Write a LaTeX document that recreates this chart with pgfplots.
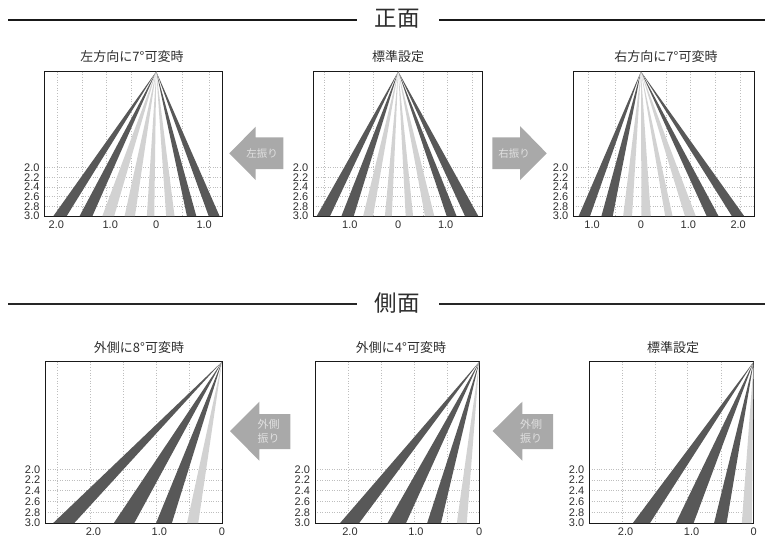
\documentclass[border=0pt]{standalone}
\usepackage{fontspec}
\setmainfont{Liberation Sans}
\newfontfamily\jp{Noto Sans CJK JP}
\usepackage{pgfplots}
\pgfplotsset{compat=1.18}
\definecolor{wdark}{HTML}{585858}
\definecolor{wlight}{HTML}{D2D2D2}
\definecolor{garrow}{HTML}{A9A9A9}
\definecolor{gtext}{HTML}{2E2E2E}
\definecolor{ggrid}{HTML}{BEBEBE}
\pgfplotsset{
  panel/.style={
    scale only axis, anchor=north west,
    y dir=reverse, ymin=0, ymax=3,
    ytick={2,2.2,2.4,2.6,2.8,3},
    yticklabels={2.0,2.2,2.4,2.6,2.8,3.0},
    ymajorgrids=true,
    major grid style={dotted, ggrid, line width=0.7pt},
    major tick length=0pt,
    tick label style={font=\fontsize{11}{11}\selectfont, text=gtext},
    yticklabel style={xshift=-1.5pt},
    xticklabel style={yshift=-1pt},
    axis line style={line width=0.9pt, black!90},
    extra x tick labels={},
    extra x tick style={xmajorgrids=true, major tick length=0pt,
      major grid style={dotted, ggrid, line width=0.7pt}},
  },
  top/.style={panel, height=144.5pt},
  bot/.style={panel, height=161.3pt},
  d/.style={fill=wdark, draw=none},
  l/.style={fill=wlight, draw=none},
}
\begin{document}
\begin{tikzpicture}
\path (0,0) rectangle (766pt,-539pt);

% section rules
\draw[line width=1.8pt, black!90] (8pt,-20pt) -- (357pt,-20pt) (439pt,-20pt) -- (765pt,-20pt);
\draw[line width=1.8pt, black!85] (8pt,-304pt) -- (357pt,-304pt) (439pt,-304pt) -- (765pt,-304pt);
\node[text=gtext, font=\jp\fontsize{22.5}{22.5}\selectfont] at (397pt,-19pt) {正面};
\node[text=gtext, font=\jp\fontsize{22.5}{22.5}\selectfont] at (397pt,-303pt) {側面};

% panel titles
\node[text=gtext, font=\jp\fontsize{13}{13}\selectfont] at (132pt,-57pt) {左方向に7°可変時};
\node[text=gtext, font=\jp\fontsize{13}{13}\selectfont] at (398pt,-57pt) {標準設定};
\node[text=gtext, font=\jp\fontsize{13}{13}\selectfont] at (666pt,-57pt) {右方向に7°可変時};
\node[text=gtext, font=\jp\fontsize{13}{13}\selectfont] at (139pt,-347.5pt) {外側に8°可変時};
\node[text=gtext, font=\jp\fontsize{13}{13}\selectfont] at (401pt,-347.5pt) {外側に4°可変時};
\node[text=gtext, font=\jp\fontsize{13}{13}\selectfont] at (673pt,-347.5pt) {標準設定};

% arrows
\fill[garrow] (229.3pt,-153.3pt) -- (255.7pt,-126.7pt) -- (255.7pt,-137.3pt) -- (283.3pt,-137.3pt) -- (283.3pt,-169pt) -- (255.7pt,-169pt) -- (255.7pt,-180pt) -- cycle;
\node[text=white!88!black, font=\jp\fontsize{10.5}{10.5}\selectfont] at (262pt,-154pt) {左振り};
\fill[garrow] (546.7pt,-153.3pt) -- (520pt,-126pt) -- (520pt,-137.3pt) -- (492.3pt,-137.3pt) -- (492.3pt,-169pt) -- (520pt,-169pt) -- (520pt,-180pt) -- cycle;
\node[text=white!88!black, font=\jp\fontsize{10.5}{10.5}\selectfont] at (514pt,-154pt) {右振り};
\fill[garrow] (230pt,-431pt) -- (259.3pt,-401.7pt) -- (259.3pt,-414pt) -- (290.3pt,-414pt) -- (290.3pt,-449pt) -- (259.3pt,-449pt) -- (259.3pt,-460.7pt) -- cycle;
\node[text=white!88!black, font=\jp\fontsize{11}{14}\selectfont, align=center] at (268.5pt,-431.5pt) {外側\\振り};
\fill[garrow] (492.7pt,-431pt) -- (522.3pt,-401.7pt) -- (522.3pt,-414pt) -- (553pt,-414pt) -- (553pt,-449pt) -- (522.3pt,-449pt) -- (522.3pt,-460.7pt) -- cycle;
\node[text=white!88!black, font=\jp\fontsize{11}{14}\selectfont, align=center] at (531pt,-431.5pt) {外側\\振り};

% front, left 7 deg
\begin{axis}[top, at={(44.5pt,-71.5pt)}, width=178pt,
  xmin=-2.26, xmax=1.34,
  xtick={-2.02,-0.93,0,0.97}, xticklabels={2.0,1.0,0,1.0},
  extra x ticks={-2,-1.5,-1,-0.5,0.52,1.07}]
\addplot[d] coordinates {(0,0)(-2.08,3)(-1.81,3)} -- cycle;
\addplot[d] coordinates {(0,0)(-1.55,3)(-1.29,3)} -- cycle;
\addplot[l] coordinates {(0,0)(-1.09,3)(-0.85,3)} -- cycle;
\addplot[l] coordinates {(0,0)(-0.64,3)(-0.43,3)} -- cycle;
\addplot[l] coordinates {(0,0)(-0.19,3)(-0.04,3)} -- cycle;
\addplot[l] coordinates {(0,0)(0.20,3)(0.37,3)} -- cycle;
\addplot[d] coordinates {(0,0)(0.62,3)(0.81,3)} -- cycle;
\addplot[d] coordinates {(0,0)(1.06,3)(1.28,3)} -- cycle;
\end{axis}

% front, standard
\begin{axis}[top, at={(313.3pt,-71.5pt)}, width=169.4pt,
  xmin=-1.72, xmax=1.71,
  xtick={-0.98,0,0.96}, xticklabels={1.0,0,1.0},
  extra x ticks={-1.5,-1,-0.5,0.51,1,1.5}]
\addplot[d] coordinates {(0,0)(-1.65,3)(-1.38,3)} -- cycle;
\addplot[d] coordinates {(0,0)(-1.15,3)(-0.90,3)} -- cycle;
\addplot[l] coordinates {(0,0)(-0.71,3)(-0.51,3)} -- cycle;
\addplot[l] coordinates {(0,0)(-0.27,3)(-0.13,3)} -- cycle;
\addplot[l] coordinates {(0,0)(0.15,3)(0.30,3)} -- cycle;
\addplot[l] coordinates {(0,0)(0.54,3)(0.73,3)} -- cycle;
\addplot[d] coordinates {(0,0)(0.98,3)(1.18,3)} -- cycle;
\addplot[d] coordinates {(0,0)(1.35,3)(1.62,3)} -- cycle;
\end{axis}

% front, right 7 deg
\begin{axis}[top, at={(573.3pt,-71.5pt)}, width=180.7pt,
  xmin=-1.37, xmax=2.29,
  xtick={-0.99,0,0.96,1.97}, xticklabels={1.0,0,1.0,2.0},
  extra x ticks={-1.07,-0.51,0.51,1.01,1.51,2.02}]
\addplot[d] coordinates {(0,0)(-1.26,3)(-1.03,3)} -- cycle;
\addplot[d] coordinates {(0,0)(-0.80,3)(-0.57,3)} -- cycle;
\addplot[l] coordinates {(0,0)(-0.36,3)(-0.18,3)} -- cycle;
\addplot[l] coordinates {(0,0)(0.01,3)(0.20,3)} -- cycle;
\addplot[l] coordinates {(0,0)(0.49,3)(0.64,3)} -- cycle;
\addplot[l] coordinates {(0,0)(0.89,3)(1.11,3)} -- cycle;
\addplot[d] coordinates {(0,0)(1.33,3)(1.57,3)} -- cycle;
\addplot[d] coordinates {(0,0)(1.84,3)(2.09,3)} -- cycle;
\end{axis}

% side, outer 8 deg
\begin{axis}[bot, at={(45.3pt,-361.7pt)}, width=176.7pt,
  xmin=-2.68, xmax=0,
  xtick={-1.95,-0.95,0}, xticklabels={2.0,1.0,0},
  extra x ticks={-2.49,-2,-1.5,-0.99,-0.49}]
\addplot[d] coordinates {(0,0)(-2.56,3)(-2.24,3)} -- cycle;
\addplot[d] coordinates {(0,0)(-1.64,3)(-1.33,3)} -- cycle;
\addplot[d] coordinates {(0,0)(-1.00,3)(-0.76,3)} -- cycle;
\addplot[l] coordinates {(0,0)(-0.53,3)(-0.36,3)} -- cycle;
\end{axis}

% side, outer 4 deg
\begin{axis}[bot, at={(315pt,-361.7pt)}, width=164.3pt,
  xmin=-2.49, xmax=0,
  xtick={-1.96,-0.96,0}, xticklabels={2.0,1.0,0},
  extra x ticks={-1.99,-1.49,-0.98,-0.49}]
\addplot[d] coordinates {(0,0)(-2.11,3)(-1.82,3)} -- cycle;
\addplot[d] coordinates {(0,0)(-1.39,3)(-1.11,3)} -- cycle;
\addplot[d] coordinates {(0,0)(-0.79,3)(-0.58,3)} -- cycle;
\addplot[l] coordinates {(0,0)(-0.34,3)(-0.19,3)} -- cycle;
\end{axis}

% side, standard
\begin{axis}[bot, at={(589.3pt,-361.7pt)}, width=164.4pt,
  xmin=-2.49, xmax=0,
  xtick={-1.94,-0.94,0}, xticklabels={2.0,1.0,0},
  extra x ticks={-1.99,-1.495,-1,-0.49}]
\addplot[d] coordinates {(0,0)(-1.83,3)(-1.57,3)} -- cycle;
\addplot[d] coordinates {(0,0)(-1.18,3)(-0.91,3)} -- cycle;
\addplot[d] coordinates {(0,0)(-0.60,3)(-0.41,3)} -- cycle;
\addplot[l] coordinates {(0,0)(-0.18,3)(-0.03,3)} -- cycle;
\end{axis}
\end{tikzpicture}
\end{document}
